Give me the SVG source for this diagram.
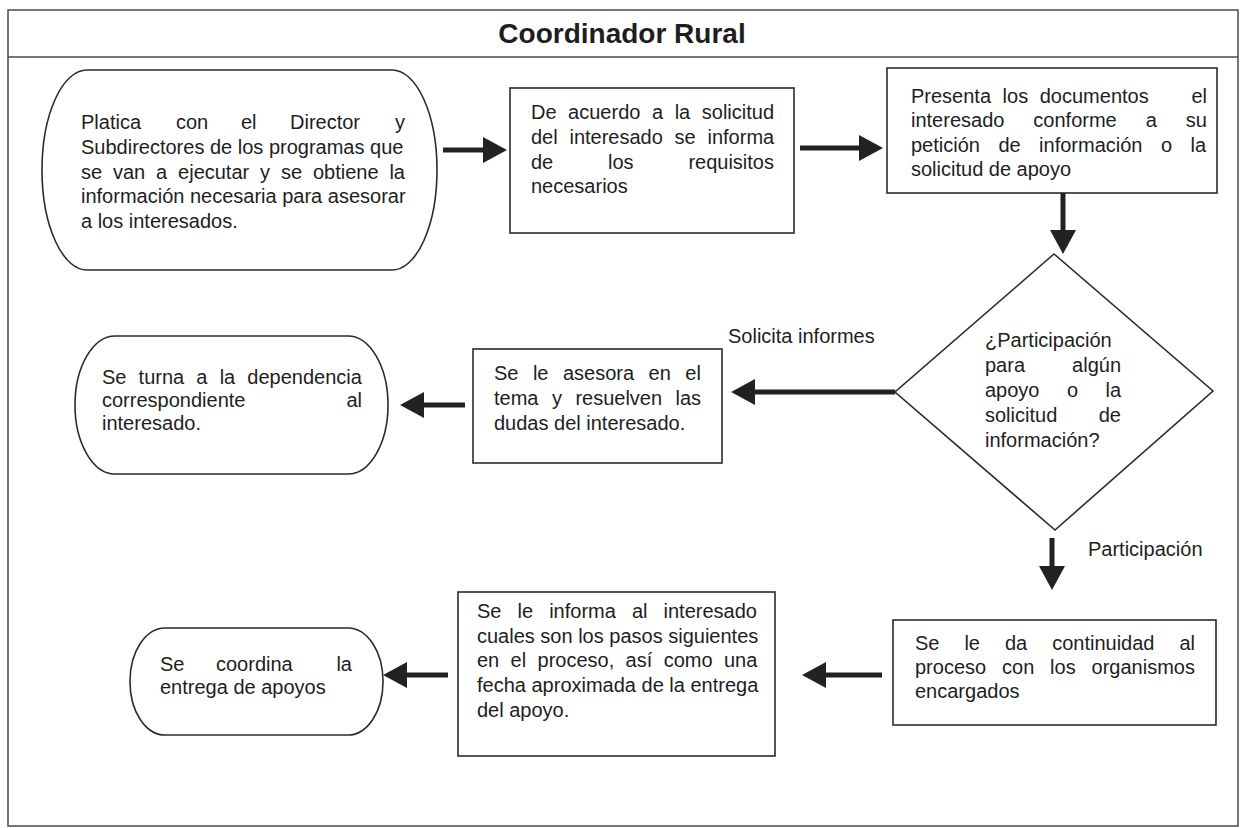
<svg xmlns="http://www.w3.org/2000/svg" width="1244" height="828" viewBox="0 0 1244 828">
  <style>
    .frame { fill: #ffffff; stroke: #4a4a4a; stroke-width: 1.5; }
    .node { fill: #ffffff; stroke: #2b2b2b; stroke-width: 1.6; }
    .t { font-family: "Liberation Sans", Arial, sans-serif; font-size: 20px; fill: #1e1e1e; }
    .end { text-anchor: end; }
    .title { font-family: "Liberation Sans", Arial, sans-serif; font-size: 28px; font-weight: bold; fill: #1e1e1e; text-anchor: middle; }
    .conn { stroke: #222222; stroke-width: 5; fill: none; }
  </style>
  <defs>
    <marker id="head" markerUnits="userSpaceOnUse" markerWidth="24" markerHeight="28" refX="10" refY="14" orient="auto">
      <path d="M0,1 L24,14 L0,27 z" fill="#222222"/>
    </marker>
  </defs>

  <!-- swimlane frame and header -->
  <g id="lane">
    <rect class="frame" x="8" y="10" width="1230" height="816"/>
    <line x1="8" y1="57" x2="1238" y2="57" stroke="#4a4a4a" stroke-width="1.5"/>
    <text class="title" x="622" y="43">Coordinador Rural</text>
  </g>

  <!-- start: briefing with directors -->
  <g id="n-platica">
    <rect class="node" x="42" y="70" width="395" height="200" rx="45" ry="100"/>
    <text class="t" x="81" y="129">Platica</text>
    <text class="t" x="176" y="129">con</text>
    <text class="t" x="241" y="129">el</text>
    <text class="t" x="290" y="129">Director</text>
    <text class="t end" x="405" y="129">y</text>
    <text class="t" x="81" y="154">Subdirectores de los programas que</text>
    <text class="t" x="81" y="179" style="word-spacing:5.3px">se van a ejecutar y se obtiene la</text>
    <text class="t" x="81" y="203">información necesaria para asesorar</text>
    <text class="t" x="81" y="228">a los interesados.</text>
  </g>

  <g id="n-requisitos">
    <rect class="node" x="510" y="88" width="284" height="145"/>
    <text class="t" x="531" y="119" style="word-spacing:6px">De acuerdo a la solicitud</text>
    <text class="t" x="531" y="144" style="word-spacing:6.2px">del interesado se informa</text>
    <text class="t" x="531" y="169">de</text>
    <text class="t" x="608" y="169">los</text>
    <text class="t end" x="774" y="169">requisitos</text>
    <text class="t" x="531" y="193">necesarios</text>
  </g>

  <g id="n-documentos">
    <rect class="node" x="887" y="68" width="330" height="125"/>
    <text class="t" x="911" y="103" style="word-spacing:6px">Presenta los documentos</text>
    <text class="t end" x="1207" y="103">el</text>
    <text class="t" x="911" y="127" style="word-spacing:23.4px">interesado conforme a su</text>
    <text class="t" x="911" y="152" style="word-spacing:12.9px">petición de información o la</text>
    <text class="t" x="911" y="176">solicitud de apoyo</text>
  </g>

  <g id="n-decision">
    <polygon class="node" points="1054,254 1213,391 1055,530 895,392"/>
    <text class="t" x="985" y="347">¿Participación</text>
    <text class="t" x="985" y="372">para</text>
    <text class="t end" x="1121" y="372">algún</text>
    <text class="t" x="985" y="397" style="word-spacing:21.9px">apoyo o la</text>
    <text class="t" x="985" y="422">solicitud</text>
    <text class="t end" x="1121" y="422">de</text>
    <text class="t" x="985" y="447">información?</text>
  </g>

  <g id="n-asesora">
    <rect class="node" x="473" y="349" width="249" height="114"/>
    <text class="t" x="494" y="380" style="word-spacing:8.9px">Se le asesora en el</text>
    <text class="t" x="494" y="405" style="word-spacing:7.9px">tema y resuelven las</text>
    <text class="t" x="494" y="430">dudas del interesado.</text>
  </g>

  <g id="n-turna">
    <rect class="node" x="75" y="336" width="313" height="138" rx="40" ry="69"/>
    <text class="t" x="102" y="384" style="word-spacing:6.6px">Se turna a la dependencia</text>
    <text class="t" x="102" y="407">correspondiente</text>
    <text class="t end" x="362" y="407">al</text>
    <text class="t" x="102" y="430">interesado.</text>
  </g>

  <g id="n-continuidad">
    <rect class="node" x="893" y="620" width="323" height="105"/>
    <text class="t" x="915" y="650" style="word-spacing:19.4px">Se le da continuidad al</text>
    <text class="t" x="915" y="674" style="word-spacing:10.3px">proceso con los organismos</text>
    <text class="t" x="915" y="698">encargados</text>
  </g>

  <g id="n-informa">
    <rect class="node" x="458" y="592" width="317" height="164"/>
    <text class="t" x="477" y="618" style="word-spacing:10.5px">Se le informa al interesado</text>
    <text class="t" x="477" y="643">cuales son los pasos siguientes</text>
    <text class="t" x="477" y="667" style="word-spacing:5.8px">en el proceso, así como una</text>
    <text class="t" x="477" y="692">fecha aproximada de la entrega</text>
    <text class="t" x="477" y="717">del apoyo.</text>
  </g>

  <g id="n-coordina">
    <rect class="node" x="130" y="628" width="253" height="107" rx="35" ry="53"/>
    <text class="t" x="160" y="671">Se</text>
    <text class="t" x="216" y="671">coordina</text>
    <text class="t end" x="352" y="671">la</text>
    <text class="t" x="160" y="694">entrega de apoyos</text>
  </g>

  <!-- connectors -->
  <g id="connectors">
    <line class="conn" x1="443" y1="150" x2="493" y2="150" marker-end="url(#head)"/>
    <line class="conn" x1="800" y1="148" x2="869" y2="148" marker-end="url(#head)"/>
    <line class="conn" x1="1063" y1="193" x2="1063" y2="240" marker-end="url(#head)"/>
    <line class="conn" x1="895" y1="392" x2="745" y2="392" marker-end="url(#head)"/>
    <line class="conn" x1="465" y1="405" x2="414" y2="405" marker-end="url(#head)"/>
    <line class="conn" x1="1052" y1="538" x2="1052" y2="576" marker-end="url(#head)"/>
    <line class="conn" x1="882" y1="675" x2="816" y2="675" marker-end="url(#head)"/>
    <line class="conn" x1="448" y1="675" x2="397" y2="675" marker-end="url(#head)"/>
    <text class="t" x="728" y="343">Solicita informes</text>
    <text class="t" x="1088" y="556">Participación</text>
  </g>
</svg>
